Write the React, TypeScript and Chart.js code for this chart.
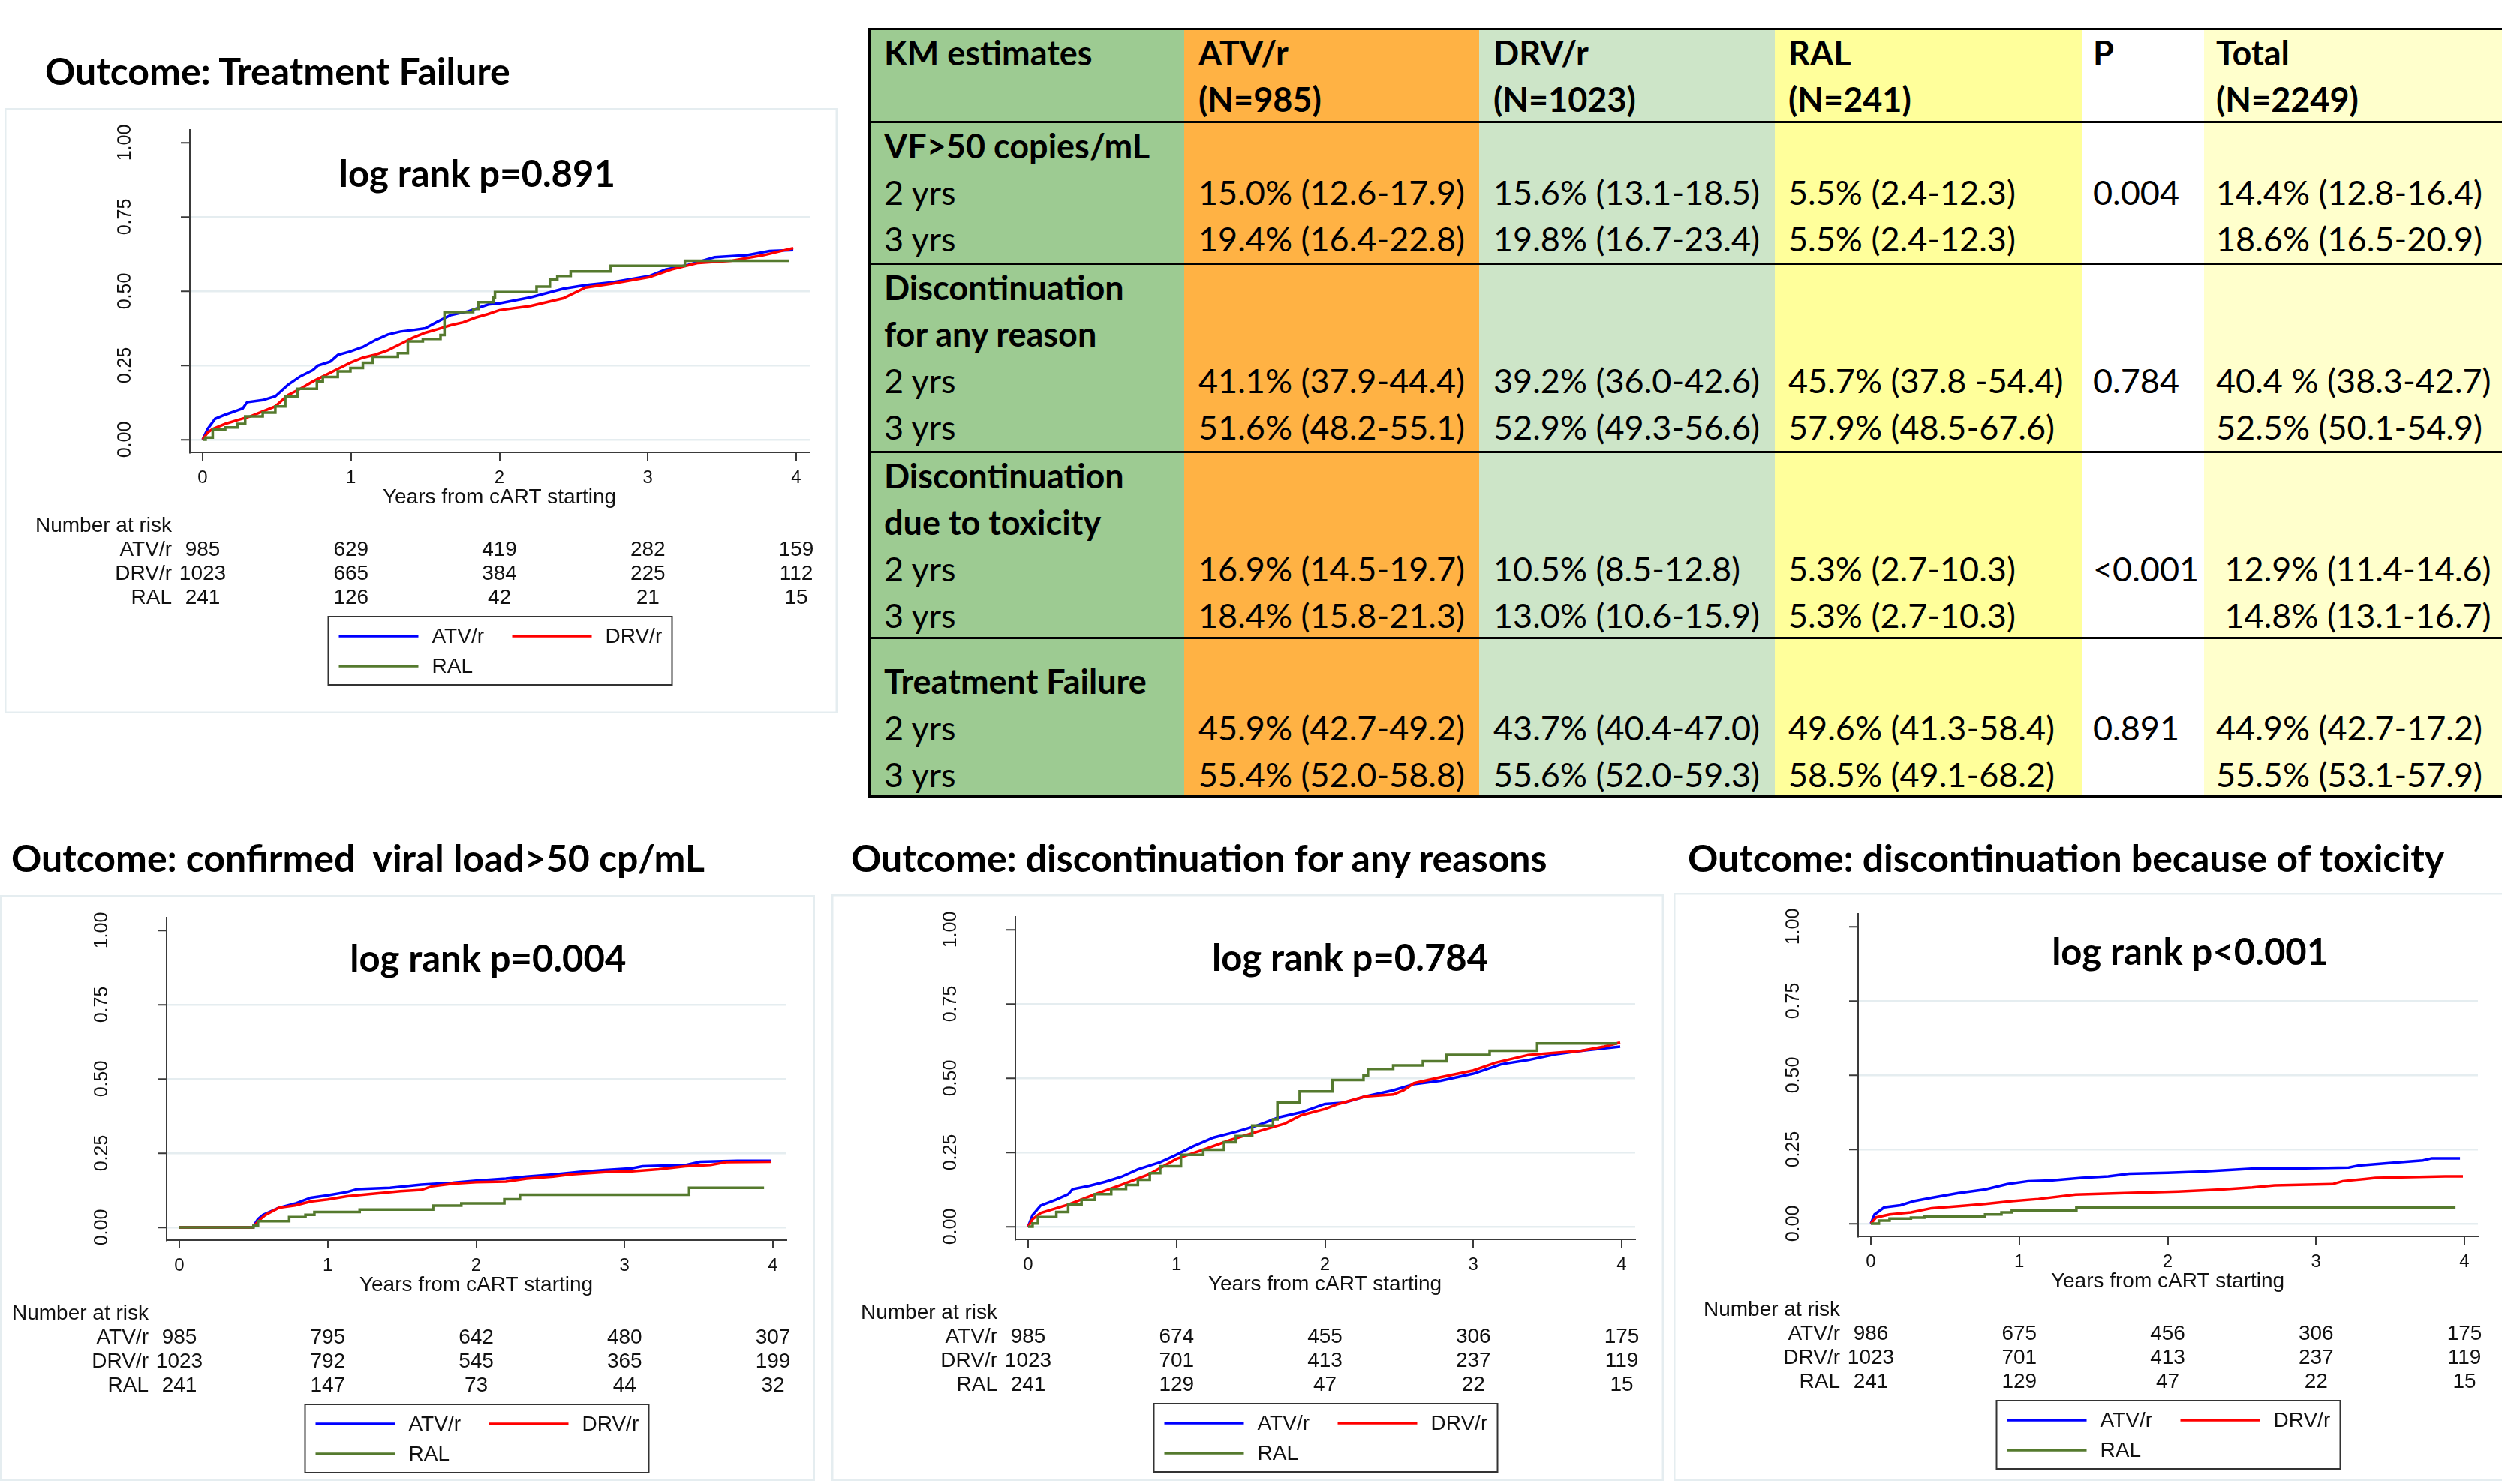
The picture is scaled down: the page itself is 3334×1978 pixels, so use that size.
import React, { useEffect, useRef } from 'react';
import { Chart, registerables } from 'chart.js';

Chart.register(...registerables);

// ---------------- data ----------------
const YEAR_TICKS = [0, 1, 2, 3, 4];
const PROB_TICKS = [0, 0.25, 0.5, 0.75, 1];
const PROB_LABELS = ['0.00', '0.25', '0.50', '0.75', '1.00'];
const ARMS = ['ATV/r', 'DRV/r', 'RAL'];
const ARM_COLORS = ['#0000FF', '#FF0000', '#557A2E'];
const X_TITLE = 'Years from cART starting';
const RISK_TITLE = 'Number at risk';

// Treatment failure
const TF_ATV = [[0,0],[0.034,0.036],[0.084,0.070],[0.152,0.084],[0.236,0.099],[0.27,0.105],[0.30,0.126],[0.405,0.133],[0.49,0.146],[0.574,0.184],[0.658,0.213],[0.743,0.234],[0.776,0.249],[0.861,0.263],[0.911,0.285],[0.996,0.297],[1.08,0.312],[1.164,0.335],[1.248,0.354],[1.333,0.364],[1.417,0.369],[1.50,0.375],[1.586,0.398],[1.67,0.419],[1.79,0.432],[1.925,0.455],[2.0,0.459],[2.21,0.479],[2.43,0.508],[2.58,0.52],[2.76,0.53],[3.01,0.551],[3.12,0.573],[3.27,0.588],[3.45,0.614],[3.67,0.621],[3.82,0.635],[3.98,0.638]];
const TF_DRV = [[0,0],[0.034,0.024],[0.068,0.036],[0.152,0.053],[0.236,0.066],[0.32,0.078],[0.405,0.095],[0.49,0.112],[0.574,0.150],[0.658,0.171],[0.743,0.196],[0.827,0.217],[0.911,0.238],[0.996,0.259],[1.08,0.276],[1.164,0.286],[1.248,0.301],[1.333,0.322],[1.417,0.343],[1.50,0.360],[1.586,0.372],[1.67,0.385],[1.755,0.395],[1.84,0.411],[1.925,0.423],[2.0,0.436],[2.21,0.450],[2.43,0.476],[2.58,0.512],[2.76,0.525],[3.01,0.547],[3.16,0.573],[3.34,0.595],[3.56,0.602],[3.78,0.621],[3.98,0.645]];
const TF_RAL = [[0,0],[0.02,0.007],[0.068,0.034],[0.152,0.041],[0.236,0.053],[0.287,0.078],[0.405,0.091],[0.49,0.112],[0.557,0.146],[0.641,0.171],[0.77,0.196],[0.81,0.211],[0.911,0.230],[0.996,0.241],[1.08,0.259],[1.147,0.279],[1.316,0.291],[1.383,0.331],[1.484,0.339],[1.603,0.352],[1.63,0.429],[1.823,0.440],[1.857,0.463],[1.96,0.478],[1.97,0.497],[2.25,0.515],[2.34,0.54],[2.39,0.551],[2.48,0.566],[2.75,0.585],[3.25,0.602],[3.95,0.602]];
const TF_RISK_ATV = [985, 629, 419, 282, 159];
const TF_RISK_DRV = [1023, 665, 384, 225, 112];
const TF_RISK_RAL = [241, 126, 42, 21, 15];

// Confirmed viral load > 50
const VL_ATV = [[0,0],[0.494,0],[0.53,0.028],[0.565,0.042],[0.67,0.066],[0.78,0.08],[0.885,0.10],[1.0,0.108],[1.13,0.119],[1.20,0.129],[1.42,0.133],[1.63,0.144],[1.84,0.15],[2.0,0.157],[2.2,0.164],[2.34,0.171],[2.52,0.178],[2.70,0.187],[2.87,0.193],[3.05,0.199],[3.12,0.206],[3.41,0.21],[3.51,0.221],[3.76,0.224],[3.99,0.224]];
const VL_DRV = [[0,0],[0.494,0],[0.547,0.028],[0.58,0.042],[0.67,0.066],[0.78,0.074],[0.885,0.087],[1.0,0.094],[1.13,0.105],[1.275,0.112],[1.49,0.122],[1.63,0.126],[1.70,0.138],[1.84,0.147],[2.0,0.152],[2.2,0.154],[2.34,0.164],[2.52,0.171],[2.63,0.178],[2.87,0.186],[3.05,0.189],[3.23,0.196],[3.41,0.206],[3.58,0.21],[3.69,0.22],[3.99,0.221]];
const VL_RAL = [[0,0],[0.50,0.007],[0.53,0.021],[0.74,0.035],[0.85,0.042],[0.91,0.052],[1.215,0.06],[1.71,0.073],[1.90,0.081],[2.19,0.095],[2.295,0.11],[3.435,0.133],[3.94,0.133]];
const VL_RISK_ATV = [985, 795, 642, 480, 307];
const VL_RISK_DRV = [1023, 792, 545, 365, 199];
const VL_RISK_RAL = [241, 147, 73, 44, 32];

// Discontinuation for any reason
const DA_ATV = [[0,0],[0.03,0.039],[0.084,0.071],[0.19,0.091],[0.27,0.109],[0.30,0.126],[0.41,0.137],[0.52,0.151],[0.63,0.168],[0.74,0.193],[0.89,0.217],[1.0,0.242],[1.11,0.27],[1.25,0.30],[1.40,0.319],[1.54,0.34],[1.69,0.368],[1.84,0.385],[2.0,0.413],[2.13,0.417],[2.27,0.438],[2.46,0.459],[2.60,0.48],[2.78,0.491],[3.0,0.515],[3.19,0.547],[3.37,0.561],[3.55,0.58],[3.73,0.592],[3.99,0.606]];
const DA_DRV = [[0,0],[0.03,0.025],[0.084,0.046],[0.27,0.074],[0.45,0.109],[0.63,0.141],[0.81,0.175],[1.0,0.228],[1.18,0.259],[1.36,0.291],[1.54,0.319],[1.73,0.347],[1.84,0.375],[2.0,0.396],[2.09,0.413],[2.27,0.438],[2.46,0.445],[2.53,0.459],[2.60,0.483],[2.78,0.503],[3.0,0.526],[3.15,0.552],[3.37,0.578],[3.55,0.585],[3.73,0.592],[3.88,0.606],[3.99,0.62]];
const DA_RAL = [[0,0],[0.03,0.011],[0.066,0.032],[0.19,0.049],[0.27,0.074],[0.36,0.09],[0.45,0.109],[0.56,0.127],[0.66,0.14],[0.74,0.158],[0.82,0.18],[0.89,0.203],[1.03,0.242],[1.18,0.259],[1.32,0.284],[1.40,0.305],[1.51,0.34],[1.65,0.361],[1.68,0.417],[1.83,0.455],[2.05,0.494],[2.26,0.508],[2.29,0.531],[2.46,0.543],[2.66,0.557],[2.82,0.578],[3.11,0.592],[3.43,0.617],[3.97,0.617]];
const DA_RISK_ATV = [985, 674, 455, 306, 175];
const DA_RISK_DRV = [1023, 701, 413, 237, 119];
const DA_RISK_RAL = [241, 129, 47, 22, 15];

// Discontinuation because of toxicity
const TX_ATV = [[0,0],[0.025,0.031],[0.09,0.055],[0.2,0.062],[0.29,0.076],[0.41,0.087],[0.59,0.103],[0.77,0.115],[0.92,0.133],[1.06,0.143],[1.21,0.145],[1.42,0.154],[1.60,0.159],[1.74,0.168],[2.0,0.171],[2.21,0.175],[2.39,0.18],[2.61,0.186],[2.93,0.186],[3.22,0.189],[3.29,0.196],[3.54,0.206],[3.72,0.213],[3.78,0.22],[3.97,0.22]];
const TX_DRV = [[0,0],[0.036,0.021],[0.126,0.031],[0.27,0.038],[0.41,0.052],[0.59,0.059],[0.77,0.066],[0.95,0.076],[1.13,0.083],[1.38,0.098],[1.71,0.103],[2.07,0.108],[2.36,0.115],[2.57,0.122],[2.72,0.129],[3.11,0.133],[3.18,0.143],[3.33,0.15],[3.40,0.154],[3.87,0.159],[3.99,0.159]];
const TX_RAL = [[0,0],[0.054,0.01],[0.126,0.017],[0.27,0.02],[0.36,0.024],[0.77,0.031],[0.88,0.038],[0.95,0.045],[1.385,0.055],[3.94,0.055]];
const TX_RISK_ATV = [986, 675, 456, 306, 175];
const TX_RISK_DRV = [1023, 701, 413, 237, 119];
const TX_RISK_RAL = [241, 129, 47, 22, 15];

// KM estimates table
const HEAD_LINE1 = ['KM estimates', 'ATV/r', 'DRV/r', 'RAL', 'P', 'Total'];
const HEAD_LINE2 = ['', '(N=985)', '(N=1023)', '(N=241)', '', '(N=2249)'];
const VF_LABEL = ['VF>50 copies/mL'];
const VF_2Y = ['2 yrs', '15.0% (12.6-17.9)', '15.6% (13.1-18.5)', '5.5% (2.4-12.3)', '0.004', '14.4% (12.8-16.4)'];
const VF_3Y = ['3 yrs', '19.4% (16.4-22.8)', '19.8% (16.7-23.4)', '5.5% (2.4-12.3)', '', '18.6% (16.5-20.9)'];
const ANY_LABEL = ['Discontinuation', 'for any reason'];
const ANY_2Y = ['2 yrs', '41.1% (37.9-44.4)', '39.2% (36.0-42.6)', '45.7% (37.8 -54.4)', '0.784', '40.4 % (38.3-42.7)'];
const ANY_3Y = ['3 yrs', '51.6% (48.2-55.1)', '52.9% (49.3-56.6)', '57.9% (48.5-67.6)', '', '52.5% (50.1-54.9)'];
const TOX_LABEL = ['Discontinuation', 'due to toxicity'];
const TOX_2Y = ['2 yrs', '16.9% (14.5-19.7)', '10.5% (8.5-12.8)', '5.3% (2.7-10.3)', '<0.001', ' 12.9% (11.4-14.6)'];
const TOX_3Y = ['3 yrs', '18.4% (15.8-21.3)', '13.0% (10.6-15.9)', '5.3% (2.7-10.3)', '', ' 14.8% (13.1-16.7)'];
const TFT_LABEL = ['Treatment Failure'];
const TFT_2Y = ['2 yrs', '45.9% (42.7-49.2)', '43.7% (40.4-47.0)', '49.6% (41.3-58.4)', '0.891', '44.9% (42.7-17.2)'];
const TFT_3Y = ['3 yrs', '55.4% (52.0-58.8)', '55.6% (52.0-59.3)', '58.5% (49.1-68.2)', '', '55.5% (53.1-57.9)'];

// ---------------- styling / layout ----------------
const GRID = '#E5EDF0';
const AXIS = '#3a3a3a';
const STATA_FONT = '"Liberation Sans", Arial, sans-serif';
const CAL_FONT = 'Lato, "Noto Sans", sans-serif';
const PPY = 197.75; // px per year
const UNIT = 396; // px per probability unit
const GAP = 17;

type PanelSpec = {
  box: [number, number, number, number];
  yAxisX: number;
  xAxisY: number;
  logrank: string;
  logrankAt: [number, number];
  series: number[][][];
  risk: number[][];
};

const PANELS: PanelSpec[] = [
  { box: [6, 144, 1116, 951], yAxisX: 253, xAxisY: 603, logrank: 'log rank p=0.891', logrankAt: [1.85, 0.89],
    series: [TF_ATV, TF_DRV, TF_RAL], risk: [TF_RISK_ATV, TF_RISK_DRV, TF_RISK_RAL] },
  { box: [0, 1193, 1086, 1974], yAxisX: 222, xAxisY: 1653, logrank: 'log rank p=0.004', logrankAt: [2.08, 0.90],
    series: [VL_ATV, VL_DRV, VL_RAL], risk: [VL_RISK_ATV, VL_RISK_DRV, VL_RISK_RAL] },
  { box: [1108, 1192, 2217, 1974], yAxisX: 1353, xAxisY: 1652, logrank: 'log rank p=0.784', logrankAt: [2.17, 0.90],
    series: [DA_ATV, DA_DRV, DA_RAL], risk: [DA_RISK_ATV, DA_RISK_DRV, DA_RISK_RAL] },
  { box: [2230, 1190, 3345, 1974], yAxisX: 2476, xAxisY: 1648, logrank: 'log rank p<0.001', logrankAt: [2.15, 0.91],
    series: [TX_ATV, TX_DRV, TX_RAL], risk: [TX_RISK_ATV, TX_RISK_DRV, TX_RISK_RAL] },
];

const kmPlugin = {
  id: 'kmAnnot',
  beforeDraw(chart: any) {
    const { ctx, width, height } = chart;
    ctx.save();
    ctx.strokeStyle = GRID;
    ctx.lineWidth = 2.5;
    ctx.strokeRect(1.25, 1.25, width - 2.5, height - 2.5);
    ctx.restore();
  },
  afterDraw(chart: any) {
    const spec: PanelSpec = chart.options.plugins.kmAnnot.spec;
    const { ctx } = chart;
    const xs = chart.scales.x;
    const ys = chart.scales.y;
    ctx.save();
    ctx.fillStyle = '#111';
    // y tick labels (rotated)
    ctx.font = `25px ${STATA_FONT}`;
    ctx.textAlign = 'center';
    ctx.textBaseline = 'middle';
    PROB_TICKS.forEach((v, i) => {
      ctx.save();
      ctx.translate(ys.right - 86, ys.getPixelForValue(v));
      ctx.rotate(-Math.PI / 2);
      ctx.fillText(PROB_LABELS[i], 0, 0);
      ctx.restore();
    });
    // x tick labels
    ctx.font = `24px ${STATA_FONT}`;
    YEAR_TICKS.forEach((v) => {
      ctx.fillText(String(v), xs.getPixelForValue(v), xs.top + 34);
    });
    const px0 = xs.getPixelForValue(0);
    const px4 = xs.getPixelForValue(4);
    const cx = (px0 + px4) / 2;
    ctx.font = `28px ${STATA_FONT}`;
    ctx.fillText(X_TITLE, cx, xs.top + 60);
    // log rank
    ctx.font = `bold 49px ${CAL_FONT}`;
    ctx.fillStyle = '#000';
    ctx.fillText(spec.logrank, xs.getPixelForValue(spec.logrankAt[0]), ys.getPixelForValue(spec.logrankAt[1]), 380);
    // number at risk
    ctx.fillStyle = '#111';
    ctx.font = `28px ${STATA_FONT}`;
    ctx.textAlign = 'left';
    ctx.fillText(RISK_TITLE, px0 - 223, xs.top + 98);
    spec.risk.forEach((row, r) => {
      const y = xs.top + 130 + r * 32;
      ctx.textAlign = 'right';
      ctx.fillText(ARMS[r], px0 - 41, y);
      ctx.textAlign = 'center';
      row.forEach((n, k) => ctx.fillText(String(n), xs.getPixelForValue(YEAR_TICKS[k]), y));
    });
    // legend
    const left = cx - 228, right = cx + 230, top = xs.top + 219, bottom = xs.top + 310;
    ctx.strokeStyle = '#333';
    ctx.lineWidth = 2;
    ctx.strokeRect(left, top, right - left, bottom - top);
    const slots = [[left + 14, top + 26], [left + 245, top + 26], [left + 14, top + 66]];
    ARMS.forEach((name, i) => {
      const [sx, sy] = slots[i];
      ctx.strokeStyle = ARM_COLORS[i];
      ctx.lineWidth = 3.5;
      ctx.beginPath();
      ctx.moveTo(sx, sy);
      ctx.lineTo(sx + 106, sy);
      ctx.stroke();
      ctx.textAlign = 'left';
      ctx.fillText(name, sx + 124, sy + 1);
    });
    ctx.restore();
  },
};

function KMPanel({ spec }: { spec: PanelSpec }) {
  const ref = useRef<HTMLCanvasElement>(null);
  const [L, T, R, B] = spec.box;
  const W = R - L;
  const H = B - T;
  useEffect(() => {
    const x0 = spec.yAxisX + GAP;
    const plotRight = x0 + 4 * PPY + 18;
    const y0 = spec.xAxisY - GAP;
    const plotTop = y0 - UNIT - GAP;
    const chart = new Chart(ref.current as HTMLCanvasElement, {
      type: 'line',
      data: {
        datasets: spec.series.map((s, i) => ({
          label: ARMS[i],
          data: s.map(([t, v]) => ({ x: t, y: v })),
          borderColor: ARM_COLORS[i],
          backgroundColor: ARM_COLORS[i],
          borderWidth: 3.5,
          pointRadius: 0,
          stepped: i === 2 ? true : false,
          tension: 0,
          fill: false,
          order: 2 - i,
        })),
      },
      options: {
        animation: false,
        responsive: false,
        maintainAspectRatio: false,
        devicePixelRatio: 1,
        events: [],
        layout: { padding: { left: 0, top: plotTop - T, right: R - plotRight, bottom: 0 } },
        plugins: {
          legend: { display: false },
          tooltip: { enabled: false },
          title: { display: false },
          kmAnnot: { spec },
        } as any,
        scales: {
          x: {
            type: 'linear',
            min: -GAP / PPY,
            max: 4 + 18 / PPY,
            afterBuildTicks: (s: any) => { s.ticks = YEAR_TICKS.map((v) => ({ value: v })); },
            afterFit: (s: any) => { s.height = B - spec.xAxisY; },
            ticks: { display: false },
            grid: { drawOnChartArea: false, drawTicks: true, tickLength: 11, tickColor: AXIS, tickWidth: 2, lineWidth: 2, color: AXIS },
            border: { display: true, color: AXIS, width: 2 },
          },
          y: {
            type: 'linear',
            min: -GAP / UNIT,
            max: 1 + GAP / UNIT,
            afterBuildTicks: (s: any) => { s.ticks = PROB_TICKS.map((v) => ({ value: v })); },
            afterFit: (s: any) => { s.width = spec.yAxisX - L; },
            ticks: { display: false },
            grid: {
              color: (c: any) => (c.tick && c.tick.value >= 1 ? 'rgba(0,0,0,0)' : GRID),
              lineWidth: 2.5,
              drawTicks: true,
              tickLength: 12,
              tickColor: AXIS,
              tickWidth: 2,
            },
            border: { display: true, color: AXIS, width: 2 },
          },
        },
      } as any,
      plugins: [kmPlugin],
    });
    return () => chart.destroy();
  }, []);
  return (
    <canvas
      ref={ref}
      width={W}
      height={H}
      style={{ position: 'absolute', left: L, top: T, width: W, height: H }}
    />
  );
}

function Txt({ x, base, size, bold, text, sx = 1 }: { x: number; base: number; size: number; bold?: boolean; text: string; sx?: number }) {
  return (
    <div
      style={{
        position: 'absolute',
        left: x,
        top: base - 0.987 * size,
        fontFamily: CAL_FONT,
        fontSize: size,
        fontWeight: bold ? 700 : 400,
        lineHeight: `${1.2 * size}px`,
        whiteSpace: 'pre',
        color: '#000',
        transform: `scaleX(${sx})`,
        transformOrigin: 'left top',
      }}
    >
      {text}
    </div>
  );
}

const COL_BOUNDS = [1158, 1578, 1971, 2365, 2774, 2937, 3345];
const COL_FILL = ['#9DCB92', '#FFB244', '#CDE5C8', '#FFFF9B', '#FFFFFF', '#FFFFCC'];
const COL_TEXT_X = [1178, 1597, 1990, 2383, 2789, 2953];
const TBL_FS = 45;
const TBL_LH = 62;
const TBL_SX = 1;

function KMTable() {
  const items: React.ReactNode[] = [];
  const line = (top: number, cells: string[], boldAll: boolean, key: string) => {
    cells.forEach((c, i) => {
      if (!c) return;
      items.push(<Txt key={key + i} x={COL_TEXT_X[i]} base={top + 49} size={TBL_FS} bold={boldAll} text={c} sx={TBL_SX} />);
    });
  };
  line(38, HEAD_LINE1, true, 'h1');
  line(38 + TBL_LH, HEAD_LINE2, true, 'h2');
  const sections: [number, string[], string[], string[]][] = [
    [162, VF_LABEL, VF_2Y, VF_3Y],
    [351, ANY_LABEL, ANY_2Y, ANY_3Y],
    [602, TOX_LABEL, TOX_2Y, TOX_3Y],
    [876, TFT_LABEL, TFT_2Y, TFT_3Y],
  ];
  sections.forEach(([top, label, r2, r3], si) => {
    label.forEach((l, k) => line(top + k * TBL_LH, [l], true, `s${si}l${k}`));
    const n = label.length;
    line(top + n * TBL_LH, r2, false, `s${si}a`);
    line(top + (n + 1) * TBL_LH, r3, false, `s${si}b`);
  });
  const hlines = [38, 162, 351, 602, 850, 1061];
  return (
    <>
      {COL_FILL.map((f, i) => (
        <div key={'c' + i} style={{ position: 'absolute', left: COL_BOUNDS[i], top: 38, width: COL_BOUNDS[i + 1] - COL_BOUNDS[i], height: 1061 - 38, background: f }} />
      ))}
      {hlines.map((y, i) => (
        <div key={'l' + i} style={{ position: 'absolute', left: 1157, top: y - 1.5, width: 3345 - 1157, height: 3, background: '#000' }} />
      ))}
      <div style={{ position: 'absolute', left: 1157, top: 36.5, width: 3, height: 1061 - 35, background: '#000' }} />
      {items}
    </>
  );
}

const TITLES: [string, number, number][] = [
  ['Outcome: Treatment Failure', 60, 113],
  ['Outcome: confirmed  viral load>50 cp/mL', 15, 1162],
  ['Outcome: discontinuation for any reasons', 1134, 1162],
  ['Outcome: discontinuation because of toxicity', 2249, 1162],
];

export default function App() {
  return (
    <div style={{ position: 'absolute', left: 0, top: 0, width: 3334, height: 1978, overflow: 'hidden', background: '#fff' }}>
      {TITLES.map(([t, x, b]) => (
        <Txt key={t} x={x} base={b} size={50} bold text={t} sx={1} />
      ))}
      <KMTable />
      {PANELS.map((p, i) => (
        <KMPanel key={i} spec={p} />
      ))}
    </div>
  );
}
